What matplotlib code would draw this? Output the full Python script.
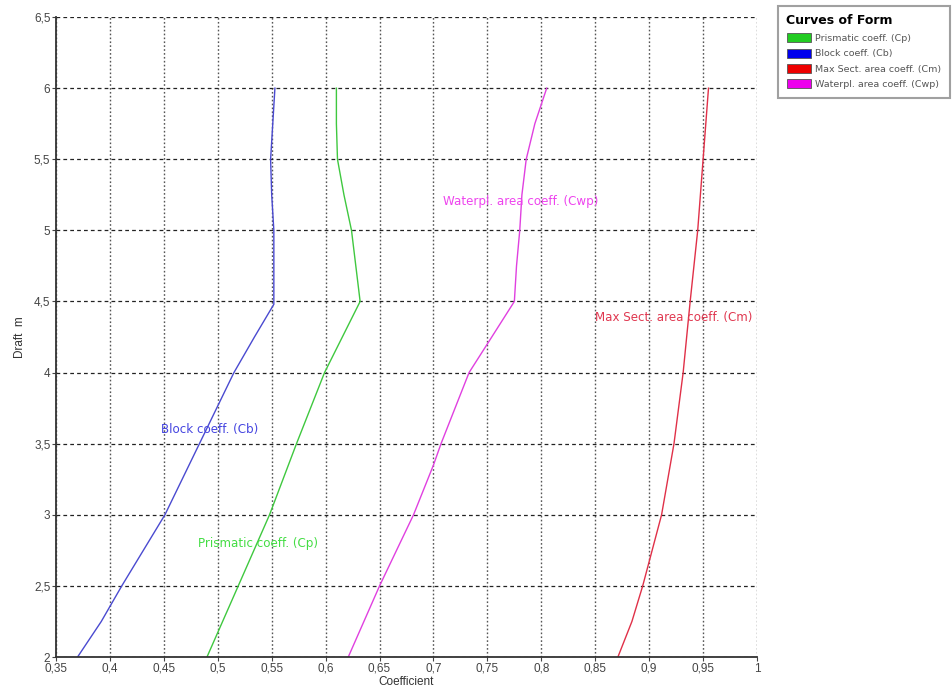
import numpy as np
import matplotlib.pyplot as plt
from matplotlib.patches import Patch

plt.rcParams['font.family'] = ['Liberation Sans', 'DejaVu Sans']

# Draft values (m) and coefficients
draft_cb = [2.0, 2.25, 2.5, 3.0, 3.5, 4.0, 4.25, 4.48, 4.75, 5.0, 5.25, 5.5, 5.75, 6.0]
cb = [0.370, 0.392, 0.411, 0.451, 0.483, 0.515, 0.534, 0.552, 0.552, 0.552, 0.550, 0.549, 0.551, 0.553]

draft_cp = [2.0, 2.5, 3.0, 3.5, 4.0, 4.5, 4.75, 5.0, 5.25, 5.5, 5.75, 6.0]
cp = [0.490, 0.519, 0.548, 0.573, 0.599, 0.632, 0.628, 0.624, 0.617, 0.611, 0.610, 0.610]

draft_cwp = [2.0, 2.5, 3.0, 3.35, 3.5, 4.0, 4.19, 4.5, 4.75, 5.0, 5.25, 5.5, 5.75, 6.0]
cwp = [0.621, 0.650, 0.6815, 0.700, 0.707, 0.733, 0.749, 0.775, 0.777, 0.780, 0.782, 0.786, 0.794, 0.805]

draft_cm = [2.0, 2.25, 2.5, 3.0, 3.5, 4.0, 4.5, 5.0, 5.5, 6.0]
cm = [0.871, 0.884, 0.894, 0.9115, 0.923, 0.9315, 0.938, 0.945, 0.950, 0.955]

x_ticks = [0.35, 0.4, 0.45, 0.5, 0.55, 0.6, 0.65, 0.7, 0.75, 0.8, 0.85, 0.9, 0.95, 1.0]
y_ticks = [2, 2.5, 3, 3.5, 4, 4.5, 5, 5.5, 6, 6.5]

series = [
    ('Prismatic coeff. (Cp)', cp, draft_cp, '#3fc83f', '#44dd44', '#22cc22', (0.482, 2.80)),
    ('Block coeff. (Cb)', cb, draft_cb, '#4a4ad0', '#4444e0', '#0000ee', (0.447, 3.60)),
    ('Max Sect. area coeff. (Cm)', cm, draft_cm, '#e03048', '#e03850', '#ee0000', (0.8497, 4.39)),
    ('Waterpl. area coeff. (Cwp)', cwp, draft_cwp, '#e040e0', '#ee44ee', '#ee00ee', (0.709, 5.20)),
]


def fmt(v):
    s = ('%.2f' % v).rstrip('0').rstrip('.')
    return s.replace('.', ',')


fig = plt.figure(figsize=(9.52, 6.90), dpi=100)
ax = fig.add_axes([0.0588, 0.0478, 0.7364, 0.9275])

for name, xs, ys, lc, tc, pc, (lx, ly) in series:
    ax.plot(xs, ys, color=lc, lw=1.0)
    ax.text(lx, ly, name, color=tc, fontsize=8.6, va='center', ha='left',
            family='DejaVu Sans')

ax.set_xlim(0.35, 1.0)
ax.set_ylim(2, 6.5)
ax.set_xticks(x_ticks)
ax.set_yticks(y_ticks)
ax.set_xticklabels([fmt(v) for v in x_ticks])
ax.set_yticklabels([fmt(v) for v in y_ticks])
ax.tick_params(labelsize=8.5, colors='#444444', length=3, width=0.8, pad=1)

ax.xaxis.grid(True, color='#555555', linestyle=(0, (1.2, 1.6)), lw=1.0)
ax.yaxis.grid(True, color='#222222', linestyle=(0, (3, 2.5)), lw=0.9)
ax.spines['top'].set_visible(False)
ax.spines['right'].set_visible(False)
ax.spines['left'].set_color('#333333')
ax.spines['bottom'].set_color('#333333')
ax.spines['left'].set_linewidth(1.3)
ax.spines['bottom'].set_linewidth(1.3)

ax.set_xlabel('Coefficient', fontsize=8.5, color='#333333', labelpad=1)
ax.set_ylabel('Draft  m', fontsize=8.5, color='#333333', labelpad=6)

handles = [Patch(facecolor=s[5], edgecolor='#555555', lw=0.6) for s in series]
leg = fig.legend(handles, [s[0] for s in series], loc='upper left',
                 bbox_to_anchor=(778 / 952, 1 - 6 / 690), title='Curves of Form',
                 alignment='left', prop={'family': 'DejaVu Sans', 'size': 6.8},
                 frameon=True, fancybox=False, borderpad=0.9,
                 handlelength=2.6, handleheight=1.1, handletextpad=0.45,
                 labelspacing=0.6, borderaxespad=0)
leg.get_title().set_fontweight('bold')
leg.get_title().set_fontsize(9)
leg.get_title().set_family('DejaVu Sans')
leg.get_frame().set_edgecolor('#888888')
leg.get_frame().set_linewidth(1.5)
for t in leg.get_texts():
    t.set_color('#555555')

fig.savefig('out.png', dpi=100)
